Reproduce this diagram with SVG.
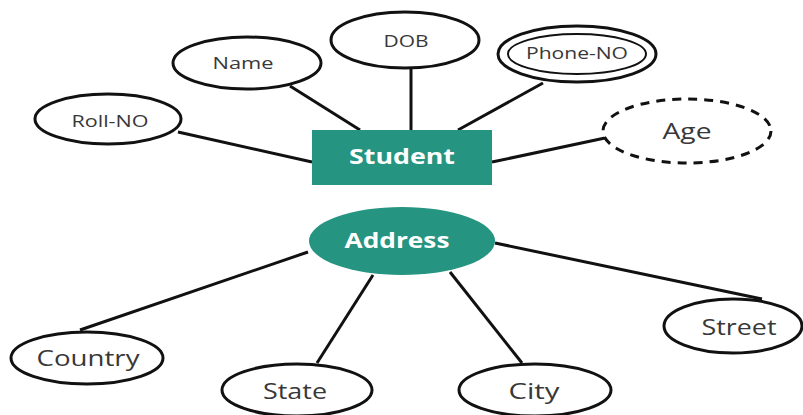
<svg xmlns="http://www.w3.org/2000/svg" width="803" height="415" viewBox="0 0 803 415">
<style>
.attr{fill:#fff;stroke:#111;stroke-width:3}
.dash{stroke-dasharray:9 7}
.lbl{font-family:"Open Sans","Liberation Sans",sans-serif;fill:#383838;text-anchor:middle}
.s{font-size:16px}
.m{font-size:22px}
.ent{fill:#259481}
.et{font-family:"Open Sans","Liberation Sans",sans-serif;font-weight:bold;font-size:22px;fill:#fff;text-anchor:middle}
.con line{stroke:#111;stroke-width:3}
</style>
<rect width="803" height="415" fill="#fff"/>
<g class="con">
<line x1="178" y1="132" x2="312" y2="162"/>
<line x1="290" y1="86" x2="360" y2="130"/>
<line x1="411" y1="68" x2="411" y2="130"/>
<line x1="543" y1="83" x2="458" y2="130"/>
<line x1="492" y1="162" x2="605" y2="138"/>
<line x1="308" y1="252" x2="80" y2="330"/>
<line x1="373" y1="275" x2="317" y2="363"/>
<line x1="450" y1="272" x2="522" y2="363"/>
<line x1="495" y1="243" x2="762" y2="299"/>
</g>
<g id="student"><rect class="ent" x="312" y="130" width="180" height="55"/><text class="et" x="402" y="164" textLength="106" lengthAdjust="spacingAndGlyphs">Student</text></g>
<g id="name"><ellipse class="attr" cx="247" cy="63" rx="74" ry="26"/><text class="lbl s" x="243" y="69" textLength="61" lengthAdjust="spacingAndGlyphs">Name</text></g>
<g id="rollno"><ellipse class="attr" cx="108" cy="119" rx="73" ry="25"/><text class="lbl s" x="110" y="127" textLength="77" lengthAdjust="spacingAndGlyphs">Roll-NO</text></g>
<g id="dob"><ellipse class="attr" cx="405" cy="40" rx="74" ry="28"/><text class="lbl s" x="406" y="47" textLength="45" lengthAdjust="spacingAndGlyphs">DOB</text></g>
<g id="phone"><ellipse class="attr" cx="577" cy="54" rx="79" ry="28"/><ellipse fill="none" stroke="#111" stroke-width="2" cx="577" cy="54" rx="69" ry="20"/><text class="lbl s" x="577" y="59" textLength="102" lengthAdjust="spacingAndGlyphs">Phone-NO</text></g>
<g id="age"><ellipse class="attr dash" cx="687" cy="131" rx="84" ry="32"/><text class="lbl m" x="687" y="139" textLength="49" lengthAdjust="spacingAndGlyphs">Age</text></g>
<g id="address"><ellipse class="ent" cx="402" cy="241" rx="93" ry="34"/><text class="et" x="397" y="248" textLength="105" lengthAdjust="spacingAndGlyphs">Address</text></g>
<g id="country"><ellipse class="attr" cx="87" cy="358" rx="76" ry="26"/><text class="lbl m" x="88" y="366" textLength="103" lengthAdjust="spacingAndGlyphs">Country</text></g>
<g id="state"><ellipse class="attr" cx="297" cy="390" rx="75" ry="26"/><text class="lbl m" x="295" y="399" textLength="64" lengthAdjust="spacingAndGlyphs">State</text></g>
<g id="city"><ellipse class="attr" cx="535" cy="390" rx="76" ry="26"/><text class="lbl m" x="534" y="399" textLength="51" lengthAdjust="spacingAndGlyphs">City</text></g>
<g id="street"><ellipse class="attr" cx="733" cy="326" rx="69" ry="27"/><text class="lbl m" x="739" y="335" textLength="75" lengthAdjust="spacingAndGlyphs">Street</text></g>
</svg>
